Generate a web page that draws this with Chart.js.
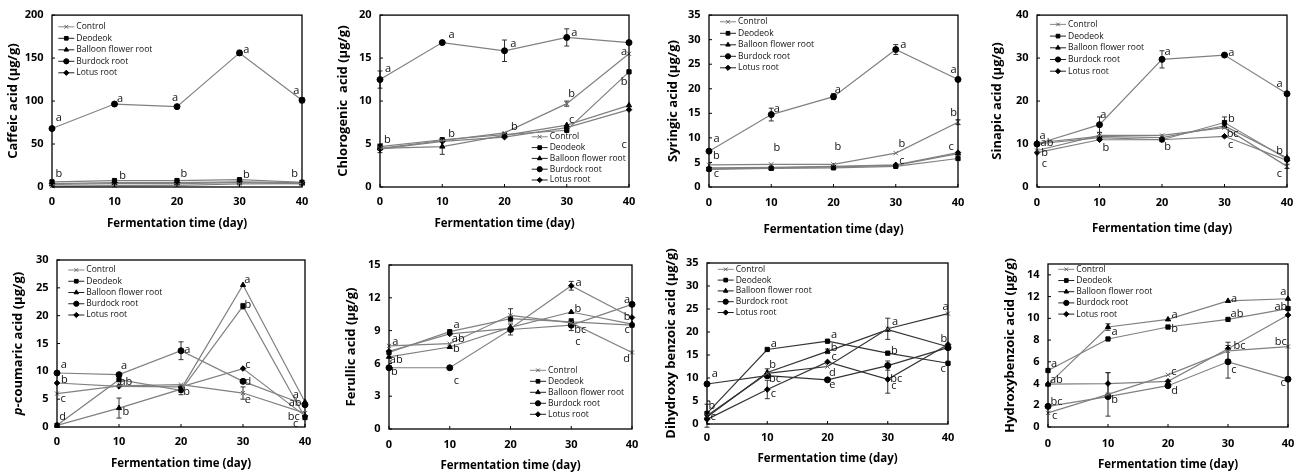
<!DOCTYPE html>
<html>
<head>
<meta charset="utf-8">
<script src="https://cdn.jsdelivr.net/npm/chart.js@4.4.1/dist/chart.umd.min.js"></script>
<style>
  html, body { margin: 0; padding: 0; background: #fff; }
  #wrap { position: relative; width: 1305px; height: 472px; overflow: hidden; }
  #wrap canvas { position: absolute; }
</style>
</head>
<body>
<div id="wrap"></div>
<script>
// shared
const days = [0, 10, 20, 30, 40];
const seriesNames = ['Control', 'Deodeok', 'Balloon flower root', 'Burdock root', 'Lotus root'];

// each panel: one row per series (order of seriesNames), errors [series, day, sd], letters [x, y, text]
const caffeic = [
  [1, 1.5, 2, 3.5, 4],
  [6, 7.5, 7.5, 8.5, 5.5],
  [3, 4, 4, 5, 4],
  [68, 96.5, 93.5, 156, 101],
  [4, 5, 5, 6, 5]
];
const caffeicErr = [[3, 30, 3], [3, 40, 3]];
const caffeicLetters = [
  [1.1, 80, 'a'], [1.1, 15, 'b'], [10.9, 102, 'a'], [11.3, 12.5, 'b'], [19.7, 104, 'a'],
  [21.1, 15, 'b'], [31.1, 160, 'a'], [31.1, 14, 'b'], [39.1, 112, 'a'], [38.8, 15, 'b']
];

const chlorogenic = [
  [4.5, 5.4, 6.3, 9.7, 15.5],
  [4.7, 5.5, 6.1, 6.6, 13.4],
  [4.5, 4.7, 6.0, 7.2, 9.5],
  [12.5, 16.8, 15.85, 17.4, 16.8],
  [4.4, 5.3, 5.8, 6.9, 9.0]
];
const chlorogenicErr = [[0, 0, 0.5], [3, 0, 1.0], [2, 10, 0.9], [3, 20, 1.25], [3, 30, 1.0], [0, 30, 0.3]];
const chlorogenicLetters = [
  [1.3, 13.8, 'a'], [1.2, 5.5, 'b'], [11.5, 17.7, 'a'], [11.5, 6.2, 'b'], [21.4, 16.7, 'a'],
  [21.6, 7.0, 'b'], [31.2, 17.9, 'a'], [30.8, 10.8, 'b'], [30.8, 7.8, 'c'], [39.2, 15.7, 'a'],
  [39.2, 12.2, 'b'], [39.2, 4.85, 'c']
];

const syringic = [
  [4.5, 4.6, 4.6, 6.9, 13.2],
  [3.6, 3.8, 3.9, 4.2, 5.8],
  [3.7, 3.9, 4.1, 4.4, 6.8],
  [7.3, 14.75, 18.4, 28.0, 21.9],
  [3.9, 4.0, 4.2, 4.5, 7.0]
];
const syringicErr = [[3, 10, 1.3], [3, 20, 0.6], [3, 30, 1.0], [0, 40, 0.5]];
const syringicLetters = [
  [1.2, 9.85, 'a'], [1.2, 6.3, 'b'], [1.2, 2.7, 'c'], [10.9, 16, 'a'], [10.9, 8, 'b'],
  [20.7, 19.7, 'a'], [20.7, 8.2, 'b'], [31.2, 28.9, 'a'], [31, 8.7, 'b'], [31, 5.4, 'c'],
  [39.3, 23.8, 'a'], [39.3, 15, 'b'], [38.9, 8.2, 'c']
];

const sinapic = [
  [8.5, 12.0, 12.0, 13.8, 4.8],
  [10.0, 11.5, 11.0, 15.0, 6.5],
  [10.3, 11.8, 11.5, 14.2, 6.8],
  [10.0, 14.5, 29.7, 30.7, 21.7],
  [8.0, 11.0, 11.0, 11.8, 6.2]
];
const sinapicErr = [[3, 10, 1.8], [3, 20, 2.0], [1, 30, 1.3], [0, 10, 0.7], [0, 40, 0.5]];
const sinapicLetters = [
  [0.9, 11.8, 'a'], [1.6, 10.3, 'ab'], [1.2, 7.9, 'b'], [1.2, 5.4, 'c'], [10.6, 16.7, 'a'],
  [11.0, 9.1, 'b'], [20.9, 31.5, 'a'], [20.9, 9.3, 'b'], [31.1, 31.1, 'a'], [31.1, 15.9, 'b'],
  [31.3, 12.4, 'bc'], [31.0, 9.9, 'c'], [38.8, 23.9, 'a'], [38.8, 8.4, 'b'], [38.8, 2.95, 'c']
];

const coumaric = [
  [6.0, 7.4, 7.6, 6.1, 2.5],
  [0.3, 8.5, 6.6, 21.7, 1.7],
  [0.3, 3.4, 6.8, 25.5, 4.5],
  [9.7, 9.4, 13.7, 8.2, 4.0],
  [7.9, 7.3, 7.2, 10.5, 2.0]
];
const coumaricErr = [[2, 10, 1.8], [3, 20, 1.6], [0, 30, 1.1], [1, 30, 0.5], [1, 20, 0.8]];
const coumaricLetters = [
  [1.1, 11.2, 'a'], [1.2, 8.5, 'b'], [1.0, 5.1, 'c'], [0.9, 1.9, 'd'], [10.8, 10.9, 'a'],
  [11.1, 8.1, 'ab'], [11.1, 2.8, 'b'], [21.0, 13.9, 'a'], [20.9, 6.3, 'b'], [30.7, 26.5, 'a'],
  [30.8, 22, 'b'], [30.8, 11.1, 'c'], [30.8, 8.1, 'd'], [30.8, 4.8, 'e'], [38.5, 5.8, 'a'],
  [38.4, 4.3, 'ab'], [38.2, 1.8, 'bc'], [38.5, 0.6, 'c']
];

const ferulic = [
  [7.6, 7.8, 10.4, 9.7, 7.0],
  [7.0, 8.9, 10.1, 9.8, 9.5],
  [6.6, 7.5, 9.3, 10.7, 9.6],
  [5.6, 5.6, 9.1, 9.5, 11.4],
  [7.1, 8.7, 9.2, 13.1, 10.2]
];
const ferulicErr = [[0, 20, 0.6], [3, 20, 0.5], [4, 30, 0.4], [1, 30, 0.3], [3, 30, 0.5]];
const ferulicLetters = [
  [1.05, 8.0, 'a'], [1.2, 6.35, 'ab'], [0.9, 5.2, 'b'], [11.1, 9.5, 'a'], [11.4, 8.2, 'ab'],
  [11.1, 7.3, 'b'], [11.1, 4.4, 'c'], [31.2, 13.35, 'a'], [31.1, 11.0, 'b'], [31.5, 9.05, 'bc'],
  [31.1, 8.0, 'c'], [39.2, 11.8, 'a'], [39.2, 10.3, 'b'], [39.2, 9.05, 'c'], [39.1, 6.45, 'd']
];

const dihydroxy = [
  [1.8, 11.0, 12.5, 20.7, 24.0],
  [2.3, 16.2, 18.0, 15.4, 13.2],
  [1.5, 11.2, 15.8, 20.5, 16.8],
  [8.7, 10.5, 9.6, 12.7, 16.6],
  [1.0, 7.5, 13.5, 9.7, 17.3]
];
const dihydroxyErr = [[0, 0, 2.5], [0, 30, 2.3], [4, 10, 2.0], [4, 30, 3.0], [2, 20, 0.5], [0, 10, 1.0], [3, 30, 1.0]];
const dihydroxyLetters = [
  [1.3, 10.8, 'a'], [0.8, 4.0, 'b'], [1.0, 1.45, 'c'], [11.1, 17.5, 'a'], [10.9, 12.85, 'b'],
  [11.3, 9.75, 'bc'], [11.0, 6.5, 'c'], [21.1, 19.3, 'a'], [21.1, 16.45, 'b'], [21.1, 14.65, 'c'],
  [20.8, 11.2, 'd'], [20.8, 8.5, 'e'], [31.2, 22.3, 'a'], [31.1, 16.0, 'b'], [31.4, 9.9, 'bc'],
  [31.0, 8.2, 'c'], [39.6, 25.4, 'a'], [39.3, 18.6, 'b'], [39.2, 11.9, 'c']
];

const hydroxybenzoic = [
  [1.3, 3.0, 4.8, 7.0, 7.4],
  [5.2, 8.1, 9.2, 9.9, 10.9],
  [3.9, 9.2, 9.9, 11.6, 11.8],
  [1.9, 2.8, 3.8, 6.0, 4.4],
  [3.95, 4.0, 4.2, 7.2, 10.3]
];
const hydroxybenzoicErr = [[0, 10, 2.0], [4, 10, 1.0], [0, 30, 0.8], [3, 30, 1.5], [2, 10, 0.3]];
const hydroxybenzoicLetters = [
  [1.0, 5.85, 'a'], [1.4, 4.35, 'ab'], [1.4, 2.3, 'bc'], [1.1, 1.05, 'c'], [11.1, 8.75, 'a'],
  [11.1, 2.5, 'b'], [21.1, 10.35, 'a'], [21.1, 9.05, 'b'], [21.0, 5.1, 'c'], [21.1, 3.35, 'd'],
  [31.0, 11.8, 'a'], [31.5, 10.45, 'ab'], [31.9, 7.45, 'bc'], [31.0, 5.25, 'c'], [39.2, 12.4, 'a'],
  [38.8, 11.1, 'ab'], [38.8, 7.8, 'bc'], [39.2, 4.1, 'c']
];

// marker look per series
const pointStyles = ['crossRot', 'rect', 'triangle', 'circle', 'rectRot'];
const markerFill = ['#777', '#000', '#000', '#000', '#000'];
const markerStroke = ['#666', '#000', '#000', '#000', '#000'];

const FONT = '"Open Sans", "Liberation Sans", sans-serif';
Chart.defaults.font.family = FONT;
Chart.defaults.color = '#000';

// layout: canvas [x, y, w, h], plot [left, top, right, bottom] in page pixels
const panels = [
  { title: 'Caffeic acid (\u03bcg/g)', values: caffeic, err: caffeicErr, letters: caffeicLetters,
    yMax: 200, yStep: 50, canvas: [0, 0, 326, 236], plot: [52, 15, 302, 187],
    yTitleX: 13.3, xTitleY: 224, xTickY: 201.7, legend: [6.3, 11.7, 11.5], line: '#808080' },
  { title: 'Chlorogenic  acid (\u03bcg/g)', values: chlorogenic, err: chlorogenicErr, letters: chlorogenicLetters,
    yMax: 20, yStep: 5, canvas: [326, 0, 326, 236], plot: [380, 15, 629, 187],
    yTitleX: 343.3, xTitleY: 224, xTickY: 201.7, legend: [151.7, 121.7, 10.8], line: '#808080' },
  { title: 'Syringic acid (\u03bcg/g)', values: syringic, err: syringicErr, letters: syringicLetters,
    yMax: 35, yStep: 5, canvas: [652, 0, 326, 236], plot: [709, 15, 958, 187],
    yTitleX: 673.3, xTitleY: 230, xTickY: 203.3, legend: [11, 6.7, 11.5], line: '#808080' },
  { title: 'Sinapic acid (\u03bcg/g)', values: sinapic, err: sinapicErr, letters: sinapicLetters,
    yMax: 40, yStep: 10, canvas: [978, 0, 327, 236], plot: [1037, 15, 1287, 187],
    yTitleX: 997.7, xTitleY: 229, xTickY: 203.3, legend: [13, 9.3, 11.7], line: '#808080' },
  { title: '-coumaric acid (\u03bcg/g)', italicPrefix: 'p', values: coumaric, err: coumaricErr, letters: coumaricLetters,
    yMax: 30, yStep: 5, canvas: [0, 236, 326, 236], plot: [57, 260, 305, 427],
    yTitleX: 18.3, xTitleY: 463.7, xTickY: 442, legend: [11.3, 10, 11.25], line: '#808080' },
  { title: 'Ferullic acid (\u03bcg/g)', values: ferulic, err: ferulicErr, letters: ferulicLetters,
    yMax: 15, yStep: 3, canvas: [326, 236, 326, 236], plot: [389, 265, 632, 429],
    yTitleX: 351.7, xTitleY: 466, xTickY: 445.3, legend: [141, 105.3, 11], line: '#808080' },
  { title: 'Dihydroxy benzoic acid (\u03bcg/g)', values: dihydroxy, err: dihydroxyErr, letters: dihydroxyLetters,
    yMax: 35, yStep: 5, canvas: [652, 236, 326, 236], plot: [707, 263, 948, 424],
    yTitleX: 671.7, xTitleY: 458.7, xTickY: 437.7, legend: [10.7, 6.3, 10.8], line: '#333' },
  { title: 'Hydroxybenzoic acid (\u03bcg/g)', values: hydroxybenzoic, err: hydroxybenzoicErr, letters: hydroxybenzoicLetters,
    yMax: 15, yStep: 2, canvas: [978, 236, 327, 236], plot: [1048, 264, 1292, 427],
    yTitleX: 1010, xTitleY: 464.3, xTickY: 444.3, legend: [10.3, 5.3, 11.2], line: '#808080' }
];

function makeDecor(p) {
  return {
    id: 'decor',
    beforeDatasetsDraw(chart) {
      const { ctx, scales: { x, y } } = chart;
      ctx.save();
      ctx.strokeStyle = '#333';
      ctx.lineWidth = 1;
      p.err.forEach(([s, day, sd]) => {
        const v = p.values[s][days.indexOf(day)];
        const px = x.getPixelForValue(day);
        const lo = y.getPixelForValue(v - sd), hi = y.getPixelForValue(v + sd);
        ctx.beginPath();
        ctx.moveTo(px, lo); ctx.lineTo(px, hi);
        ctx.moveTo(px - 2.5, lo); ctx.lineTo(px + 2.5, lo);
        ctx.moveTo(px - 2.5, hi); ctx.lineTo(px + 2.5, hi);
        ctx.stroke();
      });
      ctx.restore();
    },
    afterDraw(chart) {
      const { ctx, chartArea: a, scales: { x, y } } = chart;
      ctx.save();
      // frame + inward ticks
      ctx.strokeStyle = '#000';
      ctx.lineWidth = 1.3;
      ctx.strokeRect(a.left, a.top, a.right - a.left, a.bottom - a.top);
      ctx.lineWidth = 1;
      ctx.beginPath();
      y.ticks.forEach(t => {
        const py = y.getPixelForValue(t.value);
        ctx.moveTo(a.left, py); ctx.lineTo(a.left + 3, py);
      });
      x.ticks.forEach(t => {
        const px = x.getPixelForValue(t.value);
        ctx.moveTo(px, a.bottom); ctx.lineTo(px, a.bottom - 3);
      });
      ctx.stroke();

      // y title with an italic prefix (p-coumaric)
      if (p.italicPrefix) {
        ctx.save();
        ctx.translate(p.yTitleX - p.canvas[0], (a.top + a.bottom) / 2);
        ctx.rotate(-Math.PI / 2);
        ctx.fillStyle = '#000';
        ctx.textBaseline = 'middle';
        ctx.font = 'italic bold 13px ' + FONT;
        const w1 = ctx.measureText(p.italicPrefix).width;
        ctx.font = 'bold 13px ' + FONT;
        const w2 = ctx.measureText(p.title).width;
        const start = -(w1 + w2) / 2;
        ctx.textAlign = 'left';
        ctx.font = 'italic bold 13px ' + FONT;
        ctx.fillText(p.italicPrefix, start, 0);
        ctx.font = 'bold 13px ' + FONT;
        ctx.fillText(p.title, start + w1, 0);
        ctx.restore();
      }

      // significance letters
      ctx.fillStyle = '#111';
      ctx.font = '11px ' + FONT;
      ctx.textAlign = 'center';
      ctx.textBaseline = 'middle';
      p.letters.forEach(([lx, ly, txt]) => {
        ctx.fillText(txt, x.getPixelForValue(lx), y.getPixelForValue(ly));
      });

      // legend: line + marker + name
      ctx.font = '8.5px ' + FONT;
      ctx.textAlign = 'left';
      seriesNames.forEach((name, i) => {
        const lx = a.left + p.legend[0], ly = a.top + p.legend[1] + i * p.legend[2];
        ctx.strokeStyle = i === 0 ? '#888' : '#222';
        ctx.lineWidth = 1;
        ctx.beginPath();
        ctx.moveTo(lx, ly); ctx.lineTo(lx + 16, ly);
        ctx.stroke();
        ctx.fillStyle = markerFill[i];
        ctx.strokeStyle = markerStroke[i];
        Chart.helpers.drawPoint(ctx, { pointStyle: pointStyles[i], radius: 2.6, borderWidth: 1, rotation: 0 }, lx + 8, ly);
        ctx.fillStyle = '#111';
        ctx.fillText(name, lx + 18, ly);
      });
      ctx.restore();
    }
  };
}

function makePanel(p) {
  const [cx, cy, cw, ch] = p.canvas;
  const [pl, pt, pr, pb] = p.plot;
  const cv = document.createElement('canvas');
  cv.width = cw;
  cv.height = ch;
  cv.style.left = cx + 'px';
  cv.style.top = cy + 'px';
  document.getElementById('wrap').appendChild(cv);

  const tickFont = { size: 11, weight: 'bold' };
  const xTitleFont = { size: 11.5, weight: 'bold' };
  const yTitleFont = { size: 13, weight: 'bold' };

  new Chart(cv, {
    type: 'line',
    data: {
      datasets: seriesNames.map((name, i) => ({
        label: name,
        data: p.values[i].map((v, j) => ({ x: days[j], y: v })),
        borderColor: p.line,
        borderWidth: 1.2,
        pointStyle: pointStyles[i],
        pointRadius: i === 4 ? 2.8 : 3,
        pointBackgroundColor: markerFill[i],
        pointBorderColor: markerStroke[i],
        pointBorderWidth: 1,
        tension: 0,
        clip: false
      }))
    },
    options: {
      responsive: false,
      animation: false,
      devicePixelRatio: 1,
      layout: { padding: { left: 0, top: pt - cy, right: cx + cw - pr, bottom: 0 } },
      plugins: { legend: { display: false }, tooltip: { enabled: false } },
      scales: {
        x: {
          type: 'linear', min: 0, max: 40, offset: false,
          ticks: { stepSize: 10, font: tickFont, padding: (p.xTickY - pb) - 6.6 },
          grid: { display: false, drawTicks: false },
          border: { display: false },
          title: { display: true, text: 'Fermentation time (day)', font: xTitleFont,
                   padding: { top: 0, bottom: (cy + ch - p.xTitleY) - 6.9 } },
          afterFit: s => { s.height = cy + ch - pb; }
        },
        y: {
          type: 'linear', min: 0, max: p.yMax,
          ticks: { stepSize: p.yStep, font: tickFont, padding: 8.5 },
          afterBuildTicks: s => {
            const t = [];
            for (let v = 0; v <= p.yMax; v += p.yStep) t.push({ value: v });
            s.ticks = t;
          },
          grid: { display: false, drawTicks: false },
          border: { display: false },
          title: { display: !p.italicPrefix, text: p.title, font: yTitleFont,
                   padding: { top: (p.yTitleX - cx) - 7.8, bottom: 0 } },
          afterFit: s => { s.width = pl - cx; }
        }
      }
    },
    plugins: [makeDecor(p)]
  });
}

panels.forEach(makePanel);
</script>
</body>
</html>
